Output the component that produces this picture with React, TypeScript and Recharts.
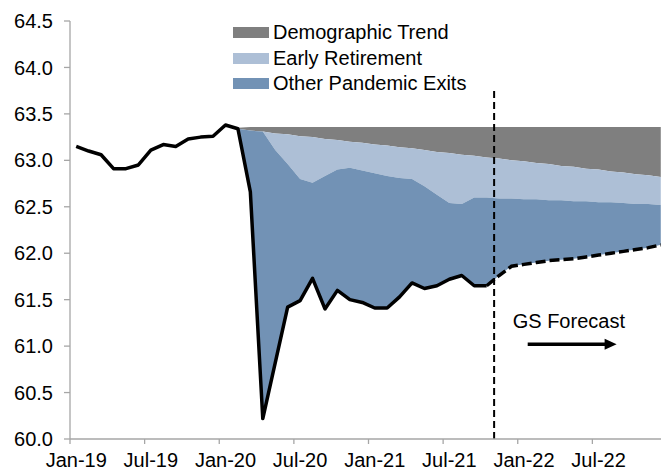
import React from 'react';
import { ComposedChart, Area, Line, XAxis, YAxis, ReferenceLine, Legend } from 'recharts';

const months = [
  'Jan-19', 'Feb-19', 'Mar-19', 'Apr-19', 'May-19', 'Jun-19', 'Jul-19', 'Aug-19', 'Sep-19', 'Oct-19', 'Nov-19', 'Dec-19',
  'Jan-20', 'Feb-20', 'Mar-20', 'Apr-20', 'May-20', 'Jun-20', 'Jul-20', 'Aug-20', 'Sep-20', 'Oct-20', 'Nov-20', 'Dec-20',
  'Jan-21', 'Feb-21', 'Mar-21', 'Apr-21', 'May-21', 'Jun-21', 'Jul-21', 'Aug-21', 'Sep-21', 'Oct-21', 'Nov-21', 'Dec-21',
  'Jan-22', 'Feb-22', 'Mar-22', 'Apr-22', 'May-22', 'Jun-22', 'Jul-22', 'Aug-22', 'Sep-22', 'Oct-22', 'Nov-22', 'Dec-22',
];

// Actual participation rate, Jan-19 .. Oct-21
const actualLfpr = [
  63.15, 63.10, 63.06, 62.91, 62.91, 62.95, 63.11, 63.17, 63.15, 63.23, 63.25, 63.26,
  63.38, 63.34, 62.66, 60.22, 60.82, 61.42, 61.49, 61.73, 61.40, 61.60, 61.50, 61.47,
  61.41, 61.41, 61.53, 61.68, 61.62, 61.65, 61.72, 61.76, 61.65, 61.65,
];

// GS forecast, Oct-21 .. Dec-22
const forecastLfpr = [
  61.65, 61.76, 61.86, 61.88, 61.90, 61.92, 61.93, 61.94, 61.96, 61.98, 62.00, 62.02, 62.04, 62.06, 62.09,
];

// Boundaries of the shaded bands, Feb-20 .. Dec-22
const otherExitsTop = [
  63.34, 63.32, 63.31, 63.11, 62.96, 62.80, 62.76, 62.83, 62.90, 62.92, 62.89,
  62.86, 62.83, 62.81, 62.80, 62.72, 62.63, 62.54, 62.53, 62.60, 62.60, 62.59, 62.59,
  62.58, 62.58, 62.57, 62.57, 62.56, 62.56, 62.55, 62.55, 62.54, 62.53, 62.53, 62.52,
];
const earlyRetirementTop = [
  63.34, 63.32, 63.31, 63.29, 63.28, 63.26, 63.25, 63.23, 63.22, 63.20, 63.19,
  63.17, 63.16, 63.14, 63.13, 63.11, 63.09, 63.08, 63.06, 63.05, 63.03, 63.02, 63.00,
  62.99, 62.97, 62.96, 62.94, 62.93, 62.91, 62.90, 62.88, 62.87, 62.85, 62.84, 62.82,
];
const demographicTop = [
  63.35, 63.36, 63.36, 63.36, 63.36, 63.36, 63.36, 63.36, 63.36, 63.36, 63.36,
  63.36, 63.36, 63.36, 63.36, 63.36, 63.36, 63.36, 63.36, 63.36, 63.36, 63.36, 63.36,
  63.36, 63.36, 63.36, 63.36, 63.36, 63.36, 63.36, 63.36, 63.36, 63.36, 63.36, 63.36,
];

const yTicks = [60, 60.5, 61, 61.5, 62, 62.5, 63, 63.5, 64, 64.5];
const xTickEdges = [-0.5, 5.5, 11.5, 17.5, 23.5, 29.5, 35.5, 41.5];
const xTickLabels = ['Jan-19', 'Jul-19', 'Jan-20', 'Jul-20', 'Jan-21', 'Jul-21', 'Jan-22', 'Jul-22'];

const SHADE_START = 13; // Feb-20
const LAST_ACTUAL = 33; // Oct-21
const forecastDividerX = 33.6;
const forecastDividerTop = 63.78;
const arrowStart = { x: 36.3, y: 61.02 };
const arrowEnd = { x: 43.45, y: 61.02 };

const COLORS = {
  demographic: '#7f7f7f',
  retirement: '#adbfd6',
  exits: '#7292b5',
  axis: '#a6a6a6',
};
const FONT = '"Liberation Sans", Arial, Helvetica, sans-serif';
const HALF_MONTH_PX = 6.22;

const data = months.map((m, i) => {
  const lfpr = i <= LAST_ACTUAL ? actualLfpr[i] : forecastLfpr[i - LAST_ACTUAL];
  const j = i - SHADE_START;
  const shaded = j >= 0;
  return {
    idx: i,
    month: m,
    actual: i <= LAST_ACTUAL ? actualLfpr[i] : null,
    forecast: i >= LAST_ACTUAL ? forecastLfpr[i - LAST_ACTUAL] : null,
    exits: shaded ? [lfpr, otherExitsTop[j]] : null,
    retire: shaded ? [otherExitsTop[j], earlyRetirementTop[j]] : null,
    demo: shaded ? [earlyRetirementTop[j], demographicTop[j]] : null,
  };
});

const XTick = (props: any) => {
  const { x, y, payload } = props;
  const k = xTickEdges.indexOf(payload.value);
  const label = k >= 0 ? xTickLabels[k] : '';
  return (
    <text x={x + HALF_MONTH_PX} y={y} dy="0.71em" textAnchor="middle" fontSize={20} fill="#000" fontFamily={FONT}>
      {label}
    </text>
  );
};

const legendItems = [
  { label: 'Demographic Trend', color: COLORS.demographic },
  { label: 'Early Retirement', color: COLORS.retirement },
  { label: 'Other Pandemic Exits', color: COLORS.exits },
];

const renderLegend = () => (
  <div style={{ fontFamily: FONT, fontSize: 20, color: '#000' }}>
    {legendItems.map((it) => (
      <div key={it.label} style={{ display: 'flex', alignItems: 'center', height: 25.5, whiteSpace: 'nowrap' }}>
        <span style={{ display: 'inline-block', width: 36, height: 11, background: it.color, marginRight: 4 }} />
        <span style={{ lineHeight: '25.5px' }}>{it.label}</span>
      </div>
    ))}
  </div>
);

const ArrowShape = (props: any) => {
  const { x1, y1, x2, y2 } = props;
  return (
    <g>
      <text x={x1 - 15} y={y1 - 16} fontSize={20} fill="#000" fontFamily={FONT}>
        GS Forecast
      </text>
      <line x1={x1} y1={y1} x2={x2 - 8} y2={y2} stroke="#000" strokeWidth={3.5} />
      <polygon points={`${x2},${y2} ${x2 - 12},${y2 - 5.5} ${x2 - 12},${y2 + 5.5}`} fill="#000" />
    </g>
  );
};

export default function App() {
  return (
    <div style={{ position: 'absolute', left: 0, top: 0, width: 661, height: 470, overflow: 'hidden', background: '#fff' }}>
      <ComposedChart width={668} height={470} data={data} margin={{ top: 21, right: 1, bottom: 1, left: 8 }}>
        <XAxis
          dataKey="idx"
          type="number"
          domain={[-0.5, 47.5]}
          ticks={xTickEdges}
          interval={0}
          tick={<XTick />}
          tickSize={5}
          tickMargin={9}
          axisLine={{ stroke: COLORS.axis, strokeWidth: 1.3 }}
          tickLine={{ stroke: COLORS.axis, strokeWidth: 1.3 }}
          height={30}
          allowDataOverflow
        />
        <YAxis
          type="number"
          domain={[60, 64.5]}
          ticks={yTicks}
          interval={0}
          width={62}
          tickSize={6}
          tickMargin={11}
          tickFormatter={(v: number) => v.toFixed(1)}
          tick={{ fontSize: 20, fill: '#000', fontFamily: FONT }}
          axisLine={{ stroke: COLORS.axis, strokeWidth: 1.3 }}
          tickLine={{ stroke: COLORS.axis, strokeWidth: 1.3 }}
          allowDataOverflow
        />
        <Legend
          layout="vertical"
          align="center"
          verticalAlign="middle"
          content={renderLegend}
          wrapperStyle={{ top: 20, left: 233, width: 'auto', height: 'auto' }}
        />
        <Area dataKey="demo" name="Demographic Trend" type="linear" stroke="none" fill={COLORS.demographic} fillOpacity={1} isAnimationActive={false} legendType="rect" />
        <Area dataKey="retire" name="Early Retirement" type="linear" stroke="none" fill={COLORS.retirement} fillOpacity={1} isAnimationActive={false} legendType="rect" />
        <Area dataKey="exits" name="Other Pandemic Exits" type="linear" stroke="none" fill={COLORS.exits} fillOpacity={1} isAnimationActive={false} legendType="rect" />
        <Line dataKey="actual" type="linear" stroke="#000" strokeWidth={3.5} strokeLinejoin="round" dot={false} activeDot={false} isAnimationActive={false} legendType="none" />
        <Line dataKey="forecast" type="linear" stroke="#000" strokeWidth={3.5} strokeDasharray="10 4" dot={false} activeDot={false} isAnimationActive={false} legendType="none" />
        <ReferenceLine
          segment={[{ x: forecastDividerX, y: 60 }, { x: forecastDividerX, y: forecastDividerTop }]}
          stroke="#000"
          strokeWidth={2}
          strokeDasharray="7 4"
        />
        <ReferenceLine segment={[arrowStart, arrowEnd]} shape={ArrowShape} />
      </ComposedChart>
    </div>
  );
}
